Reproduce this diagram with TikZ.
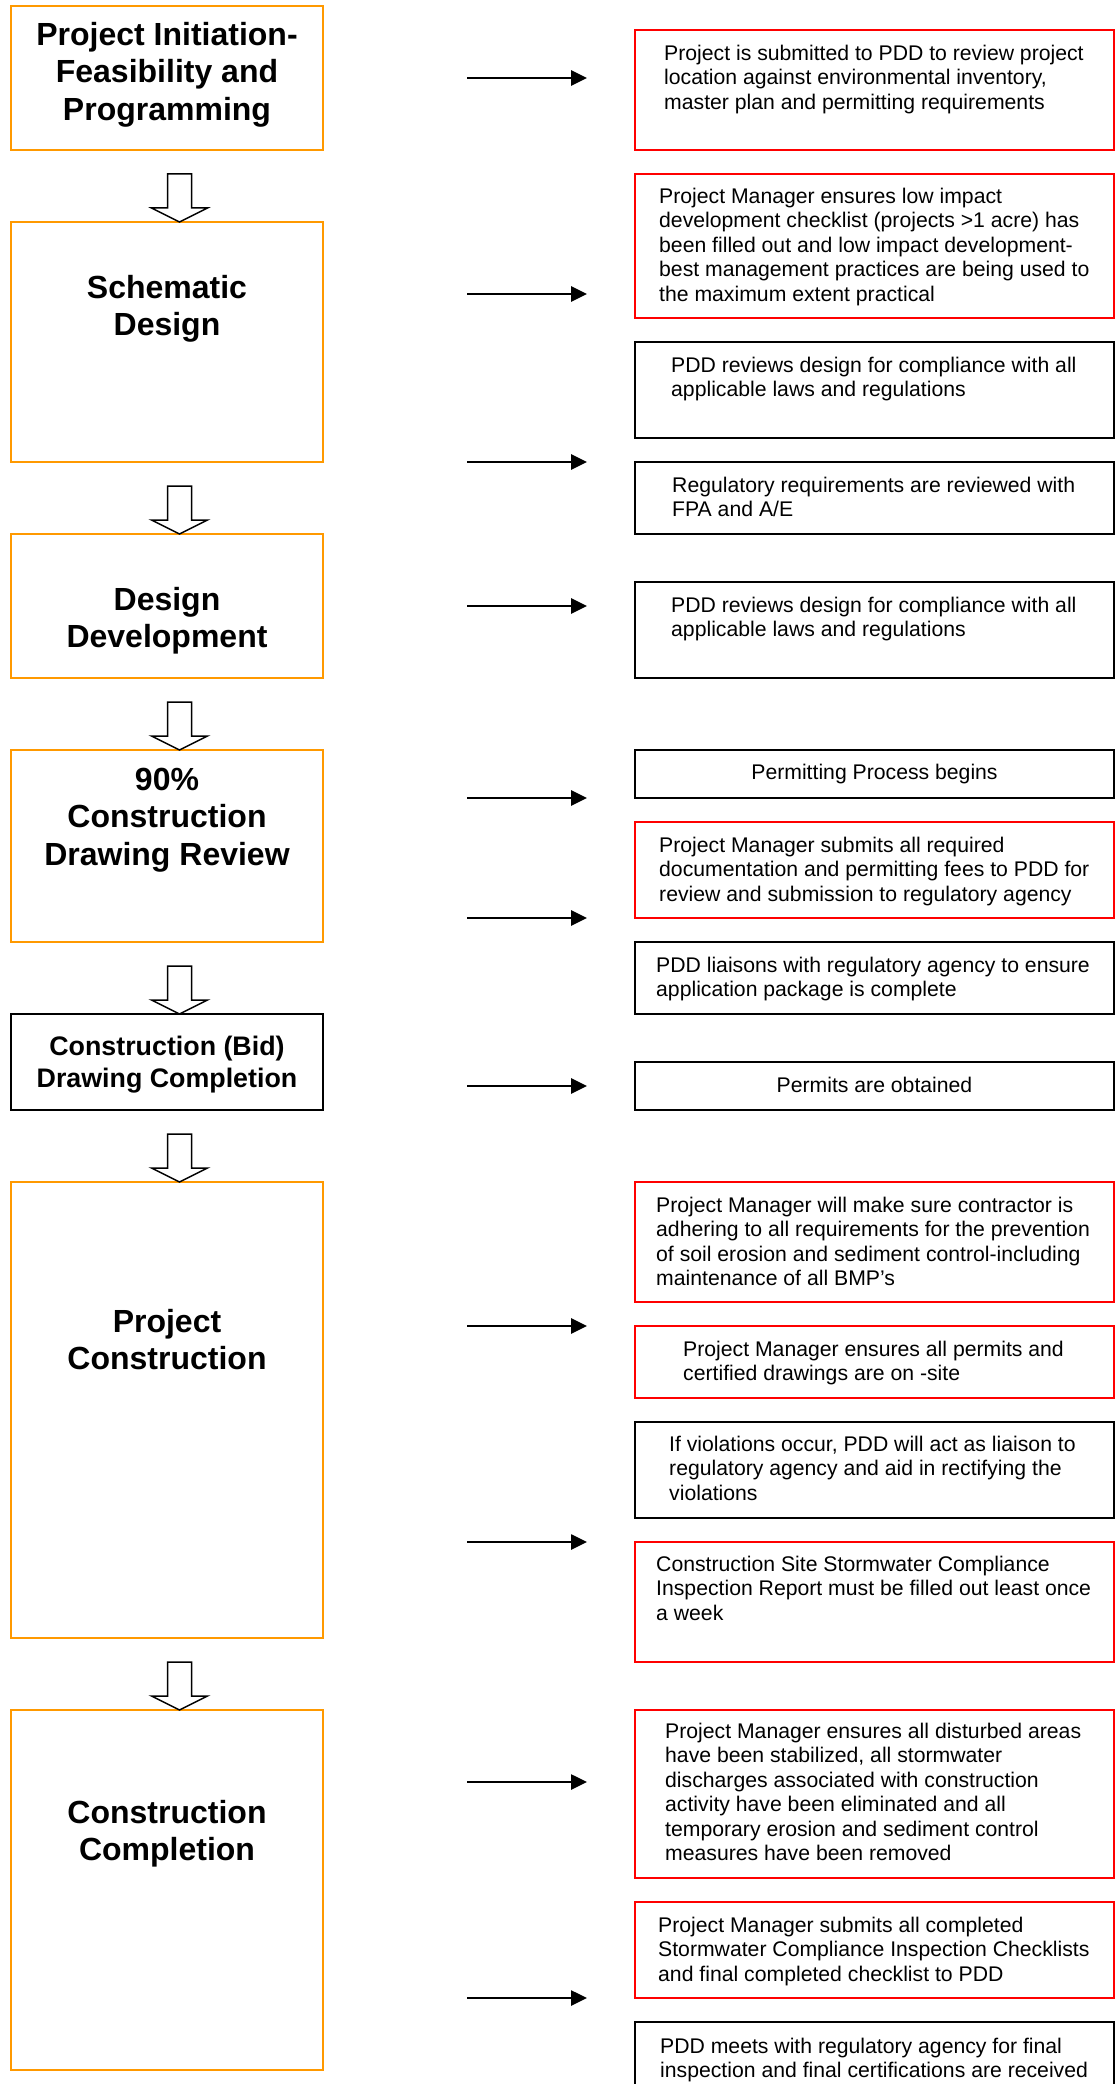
\documentclass[tikz,border=0pt]{standalone}
\usepackage{fontspec}
\setmainfont{Liberation Sans}
\usetikzlibrary{arrows.meta}
\definecolor{boxorange}{RGB}{255,153,0}
\definecolor{boxred}{RGB}{255,0,0}
\newcommand\flb{\rule{0pt}{16pt}}
\newcommand\flt{\rule{0pt}{24pt}}
\newcommand\flm{\rule{0pt}{20pt}}
\begin{document}
\begin{tikzpicture}[x=1pt,y=-1pt,
  lbox/.style={draw=boxorange, line width=2.6pt, anchor=north west, minimum width=312pt, inner sep=0pt, outer sep=0pt},
  rbox/.style={draw=black, line width=2.7pt, anchor=north west, minimum width=479pt, inner sep=0pt, outer sep=0pt},
  body/.style={anchor=north west, inner sep=0pt, align=left, font=\fontsize{21.2}{24.5}\selectfont},
  bodyc/.style={anchor=north, inner sep=0pt, align=center, font=\fontsize{21.2}{24.5}\selectfont},
  title/.style={anchor=north, inner sep=0pt, align=center, font=\bfseries\fontsize{32}{37.5}\selectfont},
  titlem/.style={anchor=north, inner sep=0pt, align=center, font=\bfseries\fontsize{26.8}{32}\selectfont},
  conn/.style={line width=2.7pt, -{Triangle[length=16pt,width=15pt]}},
  hollow/.style={draw=black, line width=1.5pt, fill=white, line join=miter}
]
\useasboundingbox (0,0) rectangle (1115,2084);

% ---------- left column boxes ----------
\node[lbox, minimum height=144pt] (L1) at (11,6) {};
\node[lbox, minimum height=240pt] (L2) at (11,222) {};
\node[lbox, minimum height=144pt] (L3) at (11,534) {};
\node[lbox, minimum height=192pt] (L4) at (11,750) {};
\node[lbox, draw=black, line width=2.8pt, minimum height=96pt] (L5) at (11,1014) {};
\node[lbox, minimum height=456pt] (L6) at (11,1182) {};
\node[lbox, minimum height=360pt] (L7) at (11,1710) {};

\node[title] (T1) at (167,21) {\flt Project Initiation-\\Feasibility and\\Programming};
\node[title] (T2) at (167,274) {\flt Schematic\\Design};
\node[title] (T3) at (167,586) {\flt Design\\Development};
\node[title] (T4) at (167,766) {\flt 90\%\\Construction\\Drawing Review};
\node[titlem] (T5) at (167,1035) {\flm Construction (Bid)\\Drawing Completion};
\node[title] (T6) at (167,1308) {\flt Project\\Construction};
\node[title] (T7) at (167,1799) {\flt Construction\\Completion};

% ---------- hollow down arrows ----------
\foreach \n/\t in {h1/222,h2/534,h3/750,h4/1014,h5/1182,h6/1710}{
  \coordinate (\n) at (179.5,\t);
  \draw[hollow] (\n) -- ++(-28,-14) -- ++(16,0) -- ++(0,-34) -- ++(24,0) -- ++(0,34) -- ++(16,0) -- cycle;
}

% ---------- right column boxes ----------
\node[rbox, draw=boxred, minimum height=120pt] (R1) at (635,30) {};
\node[rbox, draw=boxred, minimum height=144pt] (R2) at (635,174) {};
\node[rbox, minimum height=96pt] (R3) at (635,342) {};
\node[rbox, minimum height=72pt] (R4) at (635,462) {};
\node[rbox, minimum height=96pt] (R5) at (635,582) {};
\node[rbox, minimum height=48pt] (R6) at (635,750) {};
\node[rbox, draw=boxred, minimum height=96pt] (R7) at (635,822) {};
\node[rbox, minimum height=72pt] (R8) at (635,942) {};
\node[rbox, minimum height=48pt] (R9) at (635,1062) {};
\node[rbox, draw=boxred, minimum height=120pt] (R10) at (635,1182) {};
\node[rbox, draw=boxred, minimum height=72pt] (R11) at (635,1326) {};
\node[rbox, minimum height=96pt] (R12) at (635,1422) {};
\node[rbox, draw=boxred, minimum height=120pt] (R13) at (635,1542) {};
\node[rbox, draw=boxred, minimum height=168pt] (R14) at (635,1710) {};
\node[rbox, draw=boxred, minimum height=96pt] (R15) at (635,1902) {};
\node[rbox, minimum height=80pt] (R16) at (635,2022) {};

\node[body] (S1) at (664,44) {\flb Project is submitted to PDD to review project\\location against environmental inventory,\\master plan and permitting requirements};
\node[body] (S2) at (659,187) {\flb Project Manager ensures low impact\\development checklist (projects >1 acre) has\\been filled out and low impact development-\\best management practices are being used to\\the maximum extent practical};
\node[body] (S3) at (671,356) {\flb PDD reviews design for compliance with all\\applicable laws and regulations};
\node[body] (S4) at (672,476) {\flb Regulatory requirements are reviewed with\\FPA and A/E};
\node[body] (S5) at (671,596) {\flb PDD reviews design for compliance with all\\applicable laws and regulations};
\node[bodyc] (S6) at (874.5,763) {\flb Permitting Process begins};
\node[body] (S7) at (659,836) {\flb Project Manager submits all required\\documentation and permitting fees to PDD for\\review and submission to regulatory agency};
\node[body] (S8) at (656,956) {\flb PDD liaisons with regulatory agency to ensure\\application package is complete};
\node[bodyc] (S9) at (874.5,1076) {\flb Permits are obtained};
\node[body] (S10) at (656,1196) {\flb Project Manager will make sure contractor is\\adhering to all requirements for the prevention\\of soil erosion and sediment control-including\\maintenance of all BMP’s};
\node[body] (S11) at (683,1340) {\flb Project Manager ensures all permits and\\certified drawings are on -site};
\node[body] (S12) at (669,1435) {\flb If violations occur, PDD will act as liaison to\\regulatory agency and aid in rectifying the\\violations};
\node[body] (S13) at (656,1555) {\flb Construction Site Stormwater Compliance\\Inspection Report must be filled out least once\\a week};
\node[body] (S14) at (665,1722) {\flb Project Manager ensures all disturbed areas\\have been stabilized, all stormwater\\discharges associated with construction\\activity have been eliminated and all\\temporary erosion and sediment control\\measures have been removed};
\node[body] (S15) at (658,1916) {\flb Project Manager submits all completed\\Stormwater Compliance Inspection Checklists\\and final completed checklist to PDD};
\node[body] (S16) at (660,2037) {\flb PDD meets with regulatory agency for final\\inspection and final certifications are received};

% ---------- horizontal arrows ----------
\foreach \n/\y in {1/78,2/294,3/462,4/606,5/798,6/918,7/1086,8/1326,9/1542,10/1782,11/1998}{
  \coordinate (as\n) at (467,\y);
  \coordinate (ae\n) at (587,\y);
  \draw[conn] (as\n) -- (ae\n);
}
\end{tikzpicture}
\end{document}
